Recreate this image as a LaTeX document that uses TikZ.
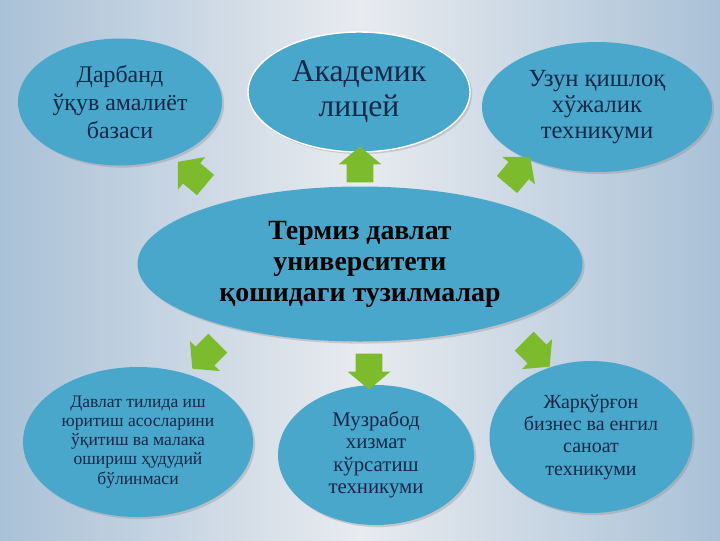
\documentclass[tikz,border=0pt]{standalone}
\usepackage{fontspec}
\setmainfont{Liberation Serif}
\usetikzlibrary{shapes.geometric, shapes.arrows, positioning, shadows}

\definecolor{bubblefill}{HTML}{48A7CA}
\definecolor{navy}{HTML}{16284A}
\definecolor{leaf}{HTML}{7CBC2C}
\definecolor{bgside}{HTML}{A9C1D7}
\definecolor{bgmid}{HTML}{E8EBEF}

\newdimen\px
\px=0.025cm

\tikzset{
  bubble/.style={ellipse, fill=bubblefill, inner sep=0pt, align=center, text=navy,
    drop shadow={opacity=0.3, shadow xshift=1.5pt, shadow yshift=-1.5pt}},
  greenarrow/.style={single arrow, fill=leaf, inner xsep=0pt, inner ysep=13\px,
    minimum height=36\px, single arrow head extend=8\px, single arrow tip angle=100},
}

\begin{document}
\begin{tikzpicture}[x=\px, y=-\px]
\useasboundingbox (0,0) rectangle (720,540);
\shade[left color=bgside, right color=bgside, middle color=bgmid] (0,0) rectangle (720,540);

\node[bubble, minimum width=445\px, minimum height=155\px, text=black,
  font=\fontsize{19.8}{22}\selectfont\bfseries] (tdu) at (360,264)
  {Термиз давлат\\университети\\қошидаги тузилмалар};
\node[bubble, minimum width=204\px, minimum height=127\px,
  font=\fontsize{17}{19.8}\selectfont] (dar) at (120,102)
  {Дарбанд\\ўқув амалиёт\\базаси};
\node[bubble, minimum width=222\px, minimum height=120\px, draw=white, line width=1pt,
  font=\fontsize{22.5}{25}\selectfont] (akad) at (359,92)
  {Академик\\лицей};
\node[bubble, minimum width=230\px, minimum height=130\px,
  font=\fontsize{17.5}{18.6}\selectfont] (uzun) at (597,107)
  {Узун қишлоқ\\хўжалик\\техникуми};
\node[bubble, minimum width=230\px, minimum height=150\px,
  font=\fontsize{12.5}{13.6}\selectfont] (davl) at (138,442)
  {Давлат тилида иш\\юритиш асосларини\\ўқитиш ва малака\\ошириш ҳудудий\\бўлинмаси};
\node[bubble, minimum width=196\px, minimum height=140\px,
  font=\fontsize{14.8}{16}\selectfont] (muz) at (376,455)
  {Музрабод\\хизмат\\кўрсатиш\\техникуми};
\node[bubble, minimum width=203\px, minimum height=152\px,
  font=\fontsize{14.2}{15.8}\selectfont] (jar) at (591,437)
  {Жарқўрғон\\бизнес ва енгил\\саноат\\техникуми};

\node[greenarrow, rotate=140] (a1) at (196,177) {};
\node[greenarrow, rotate=90] (a2) at (360,170) {};
\node[greenarrow, rotate=50] (a3) at (515,175) {};
\node[greenarrow, rotate=225] (a4) at (209,352) {};
\node[greenarrow, rotate=270] (a5) at (369,366) {};
\node[greenarrow, rotate=-45] (a6) at (533,350) {};
\end{tikzpicture}
\end{document}
